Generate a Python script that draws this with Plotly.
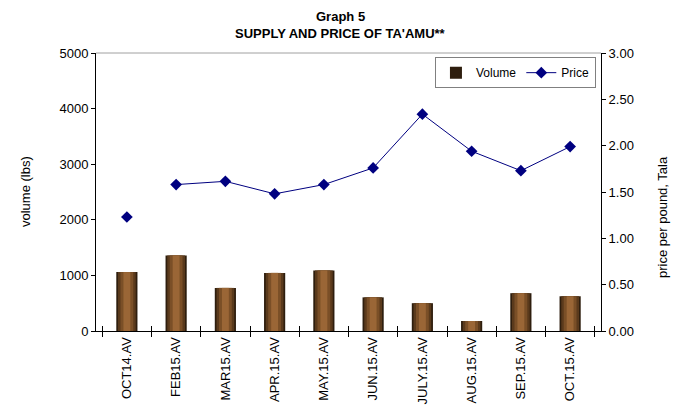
import plotly.graph_objects as go

categories = ["OCT14.AV", "FEB15.AV", "MAR15.AV", "APR.15.AV", "MAY.15.AV",
              "JUN.15.AV", "JULY.15.AV", "AUG.15.AV", "SEP.15.AV", "OCT.15.AV"]
volume = [1060, 1360, 775, 1045, 1090, 605, 500, 180, 680, 625]
price = [1.23, 1.58, 1.615, 1.48, 1.58, 1.76, 2.34, 1.94, 1.73, 1.99]

FONT = "Liberation Sans, Arial, sans-serif"

fig = go.Figure()

# layered bars to imitate the shaded cylinder look
layers = [(0.43, "#2e1e0e", True, "x"), (0.36, "#5a3a1c", False, "x"),
          (0.26, "#7a4f27", False, "x"), (0.14, "#9a6636", False, "x2")]
for w, c, show, xa in layers:
    fig.add_trace(go.Bar(
        x=categories, y=volume, width=w, name="Volume",
        marker=dict(color=c, line=dict(width=0)),
        showlegend=show, xaxis=xa, yaxis="y", legendrank=1,
    ))

# price line (first point stands alone, not connected)
fig.add_trace(go.Scatter(
    x=categories[1:], y=price[1:], name="Price", mode="lines+markers",
    line=dict(color="#000080", width=1),
    marker=dict(symbol="diamond", size=9, color="#000080"),
    yaxis="y2", legendrank=2,
))
fig.add_trace(go.Scatter(
    x=categories[:1], y=price[:1], mode="markers", showlegend=False,
    marker=dict(symbol="diamond", size=9, color="#000080"),
    yaxis="y2",
))

fig.update_layout(
    width=671, height=399,
    margin=dict(l=88, r=78, t=45, b=76),
    paper_bgcolor="white", plot_bgcolor="white",
    font=dict(family=FONT, size=13, color="black"),
    barmode="overlay",
    showlegend=True,
    xaxis=dict(
        type="category", tickangle=-90, showline=True, linecolor="black",
        linewidth=1, ticks="outside", ticklen=5, tickcolor="black",
        tickson="boundaries", showgrid=False, zeroline=False,
        automargin=False, tickfont=dict(size=13),
    ),
    xaxis2=dict(
        type="category", overlaying="x", matches="x", side="bottom",
        ticks="inside", ticklen=5, tickcolor="black", tickson="boundaries",
        showticklabels=False, showgrid=False, zeroline=False,
        showline=False, automargin=False,
    ),
    yaxis=dict(
        range=[0, 5000], dtick=1000, showline=True, linecolor="black",
        ticks="outside", ticklen=4, tickcolor="black", showgrid=False,
        zeroline=False, automargin=False, tickfont=dict(size=13),
    ),
    yaxis2=dict(
        range=[0, 3], dtick=0.5, tickformat=".2f", overlaying="y",
        side="right", showline=True, linecolor="black", ticks="outside",
        ticklen=4, tickcolor="black", showgrid=False, zeroline=False,
        automargin=False, tickfont=dict(size=13),
    ),
    legend=dict(
        orientation="h", x=0.99, xanchor="right", y=0.985, yanchor="top",
        bordercolor="#808080", borderwidth=1, bgcolor="white",
        font=dict(size=12), itemwidth=30,
    ),
    shapes=[dict(type="line", xref="paper", yref="paper", x0=0, x1=1,
                 y0=1, y1=1, line=dict(color="#a0a0a0", width=1))],
    annotations=[
        dict(text="<b>Graph 5</b>", xref="paper", yref="paper",
             x=0.485, xanchor="center", y=1 + 36 / 278, yanchor="middle",
             showarrow=False, font=dict(size=13)),
        dict(text="<b>SUPPLY AND PRICE OF TA'AMU**</b>", xref="paper",
             yref="paper", x=0.485, xanchor="center", y=1 + 20 / 278,
             yanchor="middle", showarrow=False, font=dict(size=13)),
        dict(text="volume (lbs)", textangle=-90, xref="paper", yref="paper",
             x=-71 / 505, xanchor="center", y=0.5, showarrow=False,
             font=dict(size=13)),
        dict(text="price per pound, Tala", textangle=-90,
             xref="paper", yref="paper", x=1 + 61 / 505, xanchor="center",
             y=(331 - 217) / 278, showarrow=False, font=dict(size=13)),
    ],
)

fig.write_html("out.html")
